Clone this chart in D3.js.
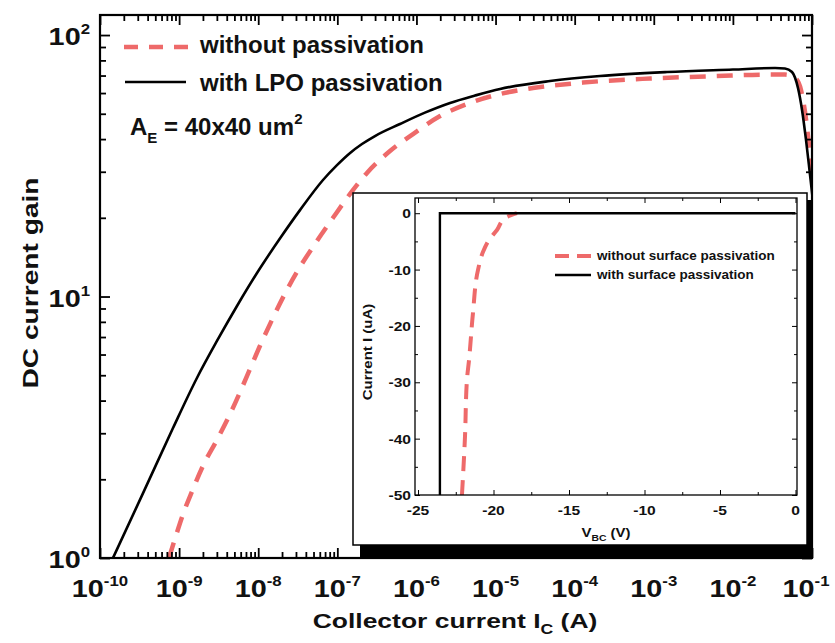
<!DOCTYPE html>
<html><head><meta charset="utf-8">
<script src="https://cdn.jsdelivr.net/npm/d3@7"></script>
<style>html,body{margin:0;padding:0;background:#fff;} svg{display:block;}</style>
</head><body><svg id="c" width="835" height="643"></svg>
<script>
// ---------- data ----------
const icWith = [1.46e-10, 3.50e-10, 8.37e-10, 1.68e-9, 3.01e-9, 5.39e-9, 9.65e-9, 1.89e-8, 3.37e-8, 6.59e-8, 9.90e-8, 1.45e-7, 2.05e-7, 2.99e-7, 6.20e-7, 1.28e-6, 2.66e-6, 5.50e-6, 1.14e-5, 4.88e-5, 2.09e-4, 1.47e-3, 1.00e-2, 3.41e-2, 4.56e-2, 5.59e-2, 6.65e-2, 7.48e-2, 8.40e-2, 9.44e-2, 1.06e-1];
const gainWith = [1.00, 1.77, 3.14, 4.88, 6.76, 9.20, 12.3, 16.7, 21.4, 27.9, 31.8, 35.4, 38.3, 41.1, 45.7, 50.5, 55.0, 58.7, 62.2, 66.7, 69.7, 72.2, 73.8, 74.8, 74.5, 72.2, 62.7, 51.7, 39.7, 29.2, 21.4];
const icWithout = [7.45e-10, 9.14e-10, 1.12e-9, 1.46e-9, 2.00e-9, 3.01e-9, 4.40e-9, 5.89e-9, 7.87e-9, 1.05e-8, 1.49e-8, 2.12e-8, 3.18e-8, 4.93e-8, 8.82e-8, 1.45e-7, 2.37e-7, 4.63e-7, 9.05e-7, 1.99e-6, 4.36e-6, 1.14e-5, 2.97e-5, 1.27e-4, 8.96e-4, 6.30e-3, 2.70e-2, 4.56e-2, 6.10e-2, 7.26e-2, 8.16e-2, 9.17e-2, 1.03e-1];
const gainWithout = [1.00, 1.22, 1.47, 1.80, 2.25, 2.83, 3.55, 4.31, 5.28, 6.47, 8.13, 10.1, 12.6, 15.5, 20.0, 24.7, 29.7, 36.0, 41.8, 49.0, 54.5, 59.5, 62.7, 65.8, 68.2, 69.7, 70.6, 70.6, 68.5, 61.6, 50.8, 38.0, 27.9];
const xTickExps = [-10, -9, -8, -7, -6, -5, -4, -3, -2, -1];
const yTickExps = [0, 1, 2];
const mainLegend = ["without passivation", "with LPO passivation"];

const vbcWith = [-23.55, -23.55, 0];
const iWith = [-50, 0, 0];
const vbcWithout = [-22.09, -21.89, -21.76, -21.62, -21.36, -21.03, -20.7, -20.3, -19.77, -19.24, -18.45];
const iWithout = [-50, -39.7, -29.6, -26.0, -17.7, -10.1, -6.9, -4.75, -2.98, -0.85, 0];
const insetXTicks = [-25, -20, -15, -10, -5, 0];
const insetYTicks = [0, -10, -20, -30, -40, -50];
const insetLegend = ["without surface passivation", "with surface passivation"];

// ---------- setup ----------
const FONT = "'Liberation Sans', Arial, Helvetica, sans-serif";
const RED = "#ee6a6a";
const svg = d3.select("#c");

function label(parent, o) {
  const g = parent.append("g").attr("transform", `translate(${o.x},${o.y}) rotate(${o.rot || 0}) scale(${o.sx || 1},1)`);
  const t = g.append("text").attr("text-anchor", o.anchor || "start")
    .attr("font-family", FONT).attr("font-weight", "bold").attr("font-size", o.size).attr("fill", "#111");
  o.parts.forEach(p => t.append("tspan").attr("font-size", p.size || o.size).attr("dy", p.dy || 0).text(p.t));
  return t;
}

// main scales
const x = d3.scaleLog().domain([1e-10, 1e-1]).range([100, 812]);
const y = d3.scaleLog().domain([1, 119.3]).range([558, 15]);

const defs = svg.append("defs");
defs.append("clipPath").attr("id", "mainClip")
  .append("rect").attr("x", 100).attr("y", 15).attr("width", 712).attr("height", 543);

const line = d3.line().curve(d3.curveMonotoneX);
const gMain = svg.append("g").attr("clip-path", "url(#mainClip)");
gMain.append("path")
  .attr("d", line(icWithout.map((v, i) => [x(v), y(gainWithout[i])])))
  .attr("fill", "none").attr("stroke", RED).attr("stroke-width", 4.5).attr("stroke-dasharray", "16,11");
gMain.append("path")
  .attr("d", line(icWith.map((v, i) => [x(v), y(gainWith[i])])))
  .attr("fill", "none").attr("stroke", "#000").attr("stroke-width", 2.6);

// main axes ticks
const xMajor = xTickExps.map(e => Math.pow(10, e));
const xMinor = [];
xTickExps.slice(0, -1).forEach(e => { for (let k = 2; k <= 9; k++) xMinor.push(k * Math.pow(10, e)); });
const yMajor = yTickExps.map(e => Math.pow(10, e));
const yMinor = [];
[0, 1].forEach(e => { for (let k = 2; k <= 9; k++) yMinor.push(k * Math.pow(10, e)); });

function tickGroup(axisFn, scale, vals, size, transform, w) {
  const g = svg.append("g").attr("transform", transform)
    .call(axisFn(scale).tickValues(vals).tickSize(size).tickSizeOuter(0).tickFormat(""));
  g.select(".domain").remove();
  g.selectAll("line").attr("stroke", "#000").attr("stroke-width", w);
  return g;
}
tickGroup(d3.axisBottom, x, xMajor, -10, "translate(0,558)", 1.8);
tickGroup(d3.axisBottom, x, xMinor, -6, "translate(0,558)", 1.8);
tickGroup(d3.axisTop, x, xMajor, -10, "translate(0,15)", 1.8);
tickGroup(d3.axisTop, x, xMinor, -6, "translate(0,15)", 1.8);
tickGroup(d3.axisLeft, y, yMajor, -10, "translate(100,0)", 1.8);
tickGroup(d3.axisLeft, y, yMinor, -6, "translate(100,0)", 1.8);
tickGroup(d3.axisRight, y, yMajor, -10, "translate(812,0)", 1.8);
tickGroup(d3.axisRight, y, yMinor, -6, "translate(812,0)", 1.8);

// main tick labels
xTickExps.forEach(e => label(svg, {x: Math.min(x(Math.pow(10, e)), 806), y: 597, sx: 1.2, anchor: "middle", size: 24,
  parts: [{t: "10"}, {t: String(e), size: 14, dy: -11}]}));
yTickExps.forEach(e => label(svg, {x: 90, y: y(Math.pow(10, e)) + 10, sx: 1.2, anchor: "end", size: 24,
  parts: [{t: "10"}, {t: String(e), size: 14, dy: -11}]}));

// axis titles
label(svg, {x: 455, y: 628, sx: 1.26, anchor: "middle", size: 21,
  parts: [{t: "Collector current I"}, {t: "C", size: 14, dy: 6}, {t: " (A)", dy: -6}]});
label(svg, {x: 38, y: 283, sx: 1.28, rot: -90, anchor: "middle", size: 22, parts: [{t: "DC current gain"}]});

// main legend
svg.append("line").attr("x1", 124).attr("x2", 188).attr("y1", 47).attr("y2", 47)
  .attr("stroke", RED).attr("stroke-width", 4.5).attr("stroke-dasharray", "14,11");
svg.append("line").attr("x1", 125).attr("x2", 186).attr("y1", 82).attr("y2", 82)
  .attr("stroke", "#000").attr("stroke-width", 2.6);
label(svg, {x: 200, y: 53, size: 24, parts: [{t: mainLegend[0]}]});
label(svg, {x: 200, y: 91, size: 24, parts: [{t: mainLegend[1]}]});
label(svg, {x: 130, y: 135, size: 24,
  parts: [{t: "A"}, {t: "E", size: 15, dy: 8}, {t: " = 40x40 um", dy: -8}, {t: "2", size: 15, dy: -11}]});

// frame
svg.append("rect").attr("x", 100).attr("y", 15).attr("width", 712).attr("height", 543)
  .attr("fill", "none").attr("stroke", "#000").attr("stroke-width", 2.2);

// ---------- inset ----------
svg.append("rect").attr("x", 360).attr("y", 200).attr("width", 453).attr("height", 358).attr("fill", "#000");
svg.append("rect").attr("x", 353).attr("y", 193).attr("width", 454).attr("height", 352)
  .attr("fill", "#fff").attr("stroke", "#000").attr("stroke-width", 1.5);

const xi = d3.scaleLinear().domain([-25.2, 0.1]).range([415, 797]);
const yi = d3.scaleLinear().domain([-50, 2.7]).range([495, 198]);

defs.append("clipPath").attr("id", "insetClip")
  .append("rect").attr("x", 415).attr("y", 198).attr("width", 382).attr("height", 297);

const gIn = svg.append("g").attr("clip-path", "url(#insetClip)");
gIn.append("path")
  .attr("d", d3.line().curve(d3.curveMonotoneY)(vbcWithout.map((v, i) => [xi(v), yi(iWithout[i])])))
  .attr("fill", "none").attr("stroke", RED).attr("stroke-width", 4).attr("stroke-dasharray", "15,9");
gIn.append("path")
  .attr("d", d3.line()(vbcWith.map((v, i) => [xi(v), yi(iWith[i])])))
  .attr("fill", "none").attr("stroke", "#000").attr("stroke-width", 2.4);

const xiMinor = d3.range(-22.5, 0, 5);
const yiMinor = d3.range(-45, 0, 10);
tickGroup(d3.axisBottom, xi, insetXTicks, -5, "translate(0,495)", 1);
tickGroup(d3.axisBottom, xi, xiMinor, -3, "translate(0,495)", 1);
tickGroup(d3.axisTop, xi, insetXTicks, -5, "translate(0,198)", 1);
tickGroup(d3.axisTop, xi, xiMinor, -3, "translate(0,198)", 1);
tickGroup(d3.axisLeft, yi, insetYTicks, -5, "translate(415,0)", 1);
tickGroup(d3.axisLeft, yi, yiMinor, -3, "translate(415,0)", 1);
tickGroup(d3.axisRight, yi, insetYTicks, -5, "translate(797,0)", 1);
tickGroup(d3.axisRight, yi, yiMinor, -3, "translate(797,0)", 1);

svg.append("rect").attr("x", 415).attr("y", 198).attr("width", 382).attr("height", 297)
  .attr("fill", "none").attr("stroke", "#000").attr("stroke-width", 1.3);

insetXTicks.forEach(v => label(svg, {x: xi(v), y: 515, sx: 1.2, anchor: "middle", size: 13, parts: [{t: String(v)}]}));
insetYTicks.forEach(v => label(svg, {x: 411, y: yi(v) + 5, sx: 1.2, anchor: "end", size: 13, parts: [{t: String(v)}]}));

label(svg, {x: 606, y: 537, sx: 1.15, anchor: "middle", size: 13,
  parts: [{t: "V"}, {t: "BC", size: 9, dy: 4}, {t: " (V)", dy: -4}]});
label(svg, {x: 372, y: 352, sx: 1.2, rot: -90, anchor: "middle", size: 12.5, parts: [{t: "Current I (uA)"}]});

// inset legend
svg.append("line").attr("x1", 555).attr("x2", 592).attr("y1", 256).attr("y2", 256)
  .attr("stroke", RED).attr("stroke-width", 4).attr("stroke-dasharray", "14,8");
svg.append("line").attr("x1", 555).attr("x2", 591).attr("y1", 275).attr("y2", 275)
  .attr("stroke", "#000").attr("stroke-width", 2.4);
label(svg, {x: 597, y: 260, size: 13.5, parts: [{t: insetLegend[0]}]});
label(svg, {x: 597, y: 279, size: 13.5, parts: [{t: insetLegend[1]}]});
</script>
</body></html>
